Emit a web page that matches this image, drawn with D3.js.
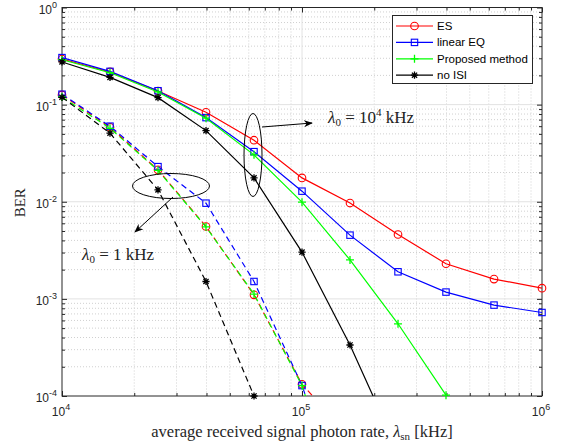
<!DOCTYPE html>
<html>
<head>
<meta charset="utf-8">
<script src="https://cdn.jsdelivr.net/npm/d3@7"></script>
<style>
  html, body { margin: 0; padding: 0; background: #fff; }
  svg { display: block; }
</style>
</head>
<body>
<svg id="chart" width="567" height="444"></svg>
<script>
// Photon rate samples (kHz), 5 points per decade
const rates = [1e4, 1.585e4, 2.512e4, 3.981e4, 6.31e4, 1e5, 1.585e5, 2.512e5, 3.981e5, 6.31e5, 1e6];

// BER for λ0 = 10^4 kHz (solid lines)
const esHigh   = [0.295, 0.217, 0.138, 0.0835, 0.043, 0.0176, 0.0097, 0.0046, 0.0023, 0.0016, 0.00129];
const eqHigh   = [0.305, 0.22, 0.139, 0.0735, 0.0328, 0.01285, 0.00453, 0.0019, 0.001175, 0.000863, 0.000724];
const propHigh = [0.29, 0.213, 0.135, 0.0725, 0.0304, 0.0099, 0.00252, 0.000554, 0.000102];
const noIsiHigh = [0.275, 0.191, 0.118, 0.054, 0.0176, 0.00303, 0.000335, 0.000027];

// BER for λ0 = 1 kHz (dashed lines)
const esLow    = [0.126, 0.0585, 0.0213, 0.00556, 0.0011, 0.000132, 0.000038];
const eqLow    = [0.128, 0.06, 0.023, 0.00967, 0.00151, 0.000128, 0.000005];
const propLow  = [0.12, 0.057, 0.021, 0.0055, 0.00112, 0.000128, 0.000004];
const noIsiLow = [0.119, 0.0508, 0.01325, 0.00151, 0.0001];

const seriesNames = ["ES", "linear EQ", "Proposed method", "no ISI"];
const seriesColors = ["#ff0000", "#0000ff", "#00ff00", "#000000"];
const seriesMarkers = ["circle", "square", "plus", "star"];

const xTicks = [1e4, 1e5, 1e6];
const yTicks = [1e-4, 1e-3, 1e-2, 1e-1, 1];

const svg = d3.select("#chart");
const pL = 62, pR = 542, pT = 7.5, pB = 396;

const x = d3.scaleLog().domain([1e4, 1e6]).range([pL, pR]);
const y = d3.scaleLog().domain([1e-4, 1]).range([pB, pT]);

const axisColor = "#262626";
const tickFont = "Liberation Sans, Arial, sans-serif";
const serifFont = "Liberation Serif, Times New Roman, serif";

const defs = svg.append("defs");
defs.append("clipPath").attr("id", "plotClip")
  .append("rect").attr("x", pL).attr("y", pT)
  .attr("width", pR - pL).attr("height", pB - pT);

// minor tick positions
const minorX = [], minorY = [];
for (let d = 4; d < 6; d++) for (let m = 2; m <= 9; m++) minorX.push(m * Math.pow(10, d));
for (let d = -4; d < 0; d++) for (let m = 2; m <= 9; m++) minorY.push(m * Math.pow(10, d));

// grid
const grid = svg.append("g");
grid.selectAll(".mgx").data(minorX).join("line")
  .attr("x1", d => x(d)).attr("x2", d => x(d)).attr("y1", pT).attr("y2", pB)
  .attr("stroke", "#d0d0d0").attr("stroke-width", 1).attr("stroke-dasharray", "1,2");
grid.selectAll(".mgy").data(minorY).join("line")
  .attr("y1", d => y(d)).attr("y2", d => y(d)).attr("x1", pL).attr("x2", pR)
  .attr("stroke", "#d0d0d0").attr("stroke-width", 1).attr("stroke-dasharray", "1,2");
grid.selectAll(".gx").data(xTicks.slice(1, -1)).join("line")
  .attr("x1", d => x(d)).attr("x2", d => x(d)).attr("y1", pT).attr("y2", pB)
  .attr("stroke", "#e2e2e2").attr("stroke-width", 1);
grid.selectAll(".gy").data(yTicks.slice(1, -1)).join("line")
  .attr("y1", d => y(d)).attr("y2", d => y(d)).attr("x1", pL).attr("x2", pR)
  .attr("stroke", "#e2e2e2").attr("stroke-width", 1);

// axes: ticks inward on all four sides
function styleAxis(g) {
  g.select(".domain").remove();
  g.selectAll("line").attr("stroke", axisColor);
  g.selectAll("text").remove();
}
svg.append("g").attr("transform", `translate(0,${pB})`)
  .call(d3.axisBottom(x).tickValues(xTicks).tickSize(-5)).call(styleAxis);
svg.append("g").attr("transform", `translate(0,${pB})`)
  .call(d3.axisBottom(x).tickValues(minorX).tickSize(-3)).call(styleAxis);
svg.append("g").attr("transform", `translate(0,${pT})`)
  .call(d3.axisTop(x).tickValues(xTicks).tickSize(-5)).call(styleAxis);
svg.append("g").attr("transform", `translate(0,${pT})`)
  .call(d3.axisTop(x).tickValues(minorX).tickSize(-3)).call(styleAxis);
svg.append("g").attr("transform", `translate(${pL},0)`)
  .call(d3.axisLeft(y).tickValues(yTicks).tickSize(-5)).call(styleAxis);
svg.append("g").attr("transform", `translate(${pL},0)`)
  .call(d3.axisLeft(y).tickValues(minorY).tickSize(-3)).call(styleAxis);
svg.append("g").attr("transform", `translate(${pR},0)`)
  .call(d3.axisRight(y).tickValues(yTicks).tickSize(-5)).call(styleAxis);
svg.append("g").attr("transform", `translate(${pR},0)`)
  .call(d3.axisRight(y).tickValues(minorY).tickSize(-3)).call(styleAxis);

svg.append("rect").attr("x", pL).attr("y", pT)
  .attr("width", pR - pL).attr("height", pB - pT)
  .attr("fill", "none").attr("stroke", axisColor).attr("stroke-width", 1);

// tick labels as powers of ten
function powLabel(g, base, exp) {
  g.append("tspan").text(base);
  g.append("tspan").attr("dy", -6).attr("font-size", 9).text(exp);
}
xTicks.forEach(v => {
  const t = svg.append("text").attr("x", x(v) - 1).attr("y", pB + 20)
    .attr("text-anchor", "middle").attr("font-family", tickFont)
    .attr("font-size", 12).attr("fill", axisColor);
  powLabel(t, "10", String(Math.round(Math.log10(v))));
});
yTicks.forEach(v => {
  const e = Math.round(Math.log10(v));
  const t = svg.append("text").attr("x", pL - 5).attr("y", y(v) + 6)
    .attr("text-anchor", "end").attr("font-family", tickFont)
    .attr("font-size", 12).attr("fill", axisColor);
  powLabel(t, "10", e === 0 ? "0" : "-" + Math.abs(e));
});

// axis titles
const xt = svg.append("text").attr("x", (pL + pR) / 2).attr("y", 437)
  .attr("text-anchor", "middle").attr("font-family", serifFont)
  .attr("font-size", 16.5).attr("fill", axisColor);
xt.append("tspan").text("average received signal photon rate, ");
xt.append("tspan").attr("font-style", "italic").text("λ");
xt.append("tspan").attr("font-size", 11).attr("dy", 3).text("sn");
xt.append("tspan").attr("dy", -3).text(" [kHz]");

svg.append("text").attr("transform", `translate(25,${(pT + pB) / 2 + 1}) rotate(-90)`)
  .attr("text-anchor", "middle").attr("font-family", serifFont)
  .attr("font-size", 15).attr("fill", axisColor).text("BER");

// markers
function drawMarker(g, type, color, cx, cy) {
  if (type === "circle") {
    g.append("circle").attr("cx", cx).attr("cy", cy).attr("r", 3.8)
      .attr("fill", "none").attr("stroke", color).attr("stroke-width", 1.1);
  } else if (type === "square") {
    g.append("rect").attr("x", cx - 3.2).attr("y", cy - 3.2).attr("width", 6.4).attr("height", 6.4)
      .attr("fill", "none").attr("stroke", color).attr("stroke-width", 1.1);
  } else if (type === "plus") {
    g.append("path").attr("d", `M${cx - 4},${cy}H${cx + 4}M${cx},${cy - 4}V${cy + 4}`)
      .attr("stroke", color).attr("stroke-width", 1.3);
  } else {
    const r = 3.6, rd = r * 0.72;
    g.append("path").attr("d",
      `M${cx - r},${cy}H${cx + r}M${cx},${cy - r}V${cy + r}` +
      `M${cx - rd},${cy - rd}L${cx + rd},${cy + rd}M${cx - rd},${cy + rd}L${cx + rd},${cy - rd}`)
      .attr("stroke", color).attr("stroke-width", 1.3);
  }
}

const line = d3.line().x(d => x(d[0])).y(d => y(d[1]));

function drawSeries(values, idx, dashed) {
  const pts = values.map((v, i) => [rates[i], v]);
  const color = seriesColors[idx];
  svg.append("path").datum(pts).attr("clip-path", "url(#plotClip)")
    .attr("d", line).attr("fill", "none").attr("stroke", color)
    .attr("stroke-width", 1.2).attr("stroke-dasharray", dashed ? "6,4" : null);
  const g = svg.append("g");
  pts.filter(p => p[1] >= 0.99e-4 && p[1] <= 1).forEach(p =>
    drawMarker(g, seriesMarkers[idx], color, x(p[0]), y(p[1])));
}

[esHigh, eqHigh, propHigh, noIsiHigh].forEach((s, i) => drawSeries(s, i, false));
[esLow, eqLow, propLow, noIsiLow].forEach((s, i) => drawSeries(s, i, true));

// annotations
defs.append("marker").attr("id", "arrowHead")
  .attr("viewBox", "0 0 10 10").attr("refX", 9).attr("refY", 5)
  .attr("markerWidth", 9).attr("markerHeight", 9).attr("orient", "auto")
  .attr("markerUnits", "userSpaceOnUse")
  .append("path").attr("d", "M0,1L10,5L0,9L3,5Z").attr("fill", "#000");

const ann = svg.append("g").attr("fill", "none").attr("stroke", "#000").attr("stroke-width", 1);
ann.append("ellipse").attr("cx", x(6.31e4) - 1).attr("cy", 155).attr("rx", 9).attr("ry", 41.5);
ann.append("line").attr("x1", 262).attr("y1", 127).attr("x2", 312).attr("y2", 123)
  .attr("marker-end", "url(#arrowHead)");
ann.append("ellipse").attr("cx", 171).attr("cy", 186).attr("rx", 38.5).attr("ry", 12.5);
ann.append("line").attr("x1", 173).attr("y1", 197).attr("x2", 135).attr("y2", 232)
  .attr("marker-end", "url(#arrowHead)");

function lambdaLabel(xp, yp, expText, valText) {
  const t = svg.append("text").attr("x", xp).attr("y", yp)
    .attr("font-family", serifFont).attr("font-size", 17).attr("fill", "#222");
  t.append("tspan").attr("font-style", "italic").text("λ");
  t.append("tspan").attr("font-size", 11).attr("dy", 3).text("0");
  t.append("tspan").attr("dy", -3).text(" = " + valText);
  if (expText) {
    t.append("tspan").attr("font-size", 11).attr("dy", -7).text(expText);
    t.append("tspan").attr("dy", 7).text(" kHz");
  } else {
    t.append("tspan").text(" kHz");
  }
}
lambdaLabel(328, 123, "4", "10");
lambdaLabel(82, 260, null, "1");

// legend
const lg = svg.append("g");
lg.append("rect").attr("x", 392.5).attr("y", 15.5).attr("width", 140).attr("height", 68)
  .attr("fill", "#fff").attr("stroke", axisColor).attr("stroke-width", 1);
seriesNames.forEach((name, i) => {
  const yy = 26 + i * 16.4;
  lg.append("line").attr("x1", 396).attr("x2", 433).attr("y1", yy).attr("y2", yy)
    .attr("stroke", seriesColors[i]).attr("stroke-width", 1.2);
  drawMarker(lg, seriesMarkers[i], seriesColors[i], 414.5, yy);
  lg.append("text").attr("x", 437).attr("y", yy + 4).attr("font-family", tickFont)
    .attr("font-size", 11.5).attr("fill", "#000").text(name);
});
</script>
</body>
</html>
